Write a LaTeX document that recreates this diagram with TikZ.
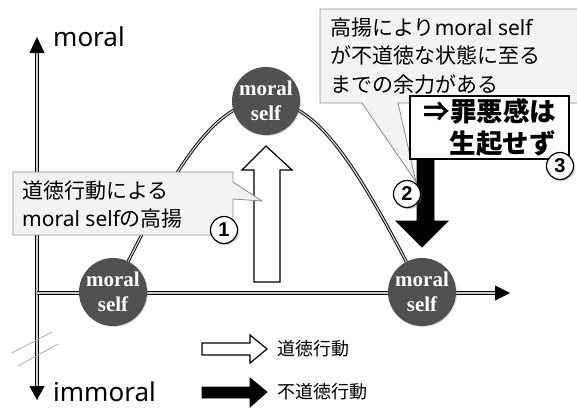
\documentclass[tikz,border=0pt]{standalone}
\usepackage{fontspec}
\setmainfont{Noto Sans CJK JP}
\newfontfamily\serifb{Liberation Serif}
\newfontfamily\lat{Noto Sans}
\newfontfamily\numf{Liberation Sans}
\usetikzlibrary{arrows.meta,shadows}
\definecolor{selffill}{HTML}{505050}
\definecolor{callfill}{HTML}{F2F4F4}
\definecolor{callline}{HTML}{8A8A8A}
\begin{document}
\begin{tikzpicture}[x=1pt,y=-1pt,
  axis/.style={line width=0.9pt, draw=black, double=gray!40, double distance=1.3pt},
  selfnode/.style={circle, fill=selffill, minimum size=68pt, inner sep=0pt, text=white,
    font=\serifb\bfseries\fontsize{21}{24.5}\selectfont, align=center,
    drop shadow={shadow xshift=1pt, shadow yshift=-1pt, opacity=0.3}},
  numnode/.style={circle, draw=black, line width=1.2pt, fill=white, minimum size=27pt, inner sep=0pt,
    font=\numf\bfseries\fontsize{20}{20}\selectfont,
    drop shadow={shadow xshift=1.5pt, shadow yshift=-1.5pt, opacity=0.4}},
  callshape/.style={fill=callfill, draw=callline, line width=0.8pt},
  calltext/.style={align=left, inner sep=0pt, font=\fontsize{21}{28.5}\selectfont},
  whitearrow/.style={fill=white, draw=black, line width=1.2pt, line join=miter},
  blackarrow/.style={fill=black, draw=black, line width=0.8pt, line join=miter},
  axislabel/.style={inner sep=0pt, font=\lat\fontsize{26}{26}\selectfont},
  legendtext/.style={inner sep=0pt, anchor=west, font=\fontsize{18}{18}\selectfont},
  breakmark/.style={draw=gray!70, line width=0.7pt}
]
\useasboundingbox (0,0) rectangle (577,412);

% coordinates
\coordinate (vtop) at (37,37);
\coordinate (vbot) at (37,400);
\coordinate (horg) at (37,293);
\coordinate (hend) at (510,293);
\coordinate (Lc) at (113,292);
\coordinate (Tc) at (266,101);
\coordinate (Rc) at (422,292);

% axes
\draw[axis, {Triangle[length=14pt,width=15pt]}-{Triangle[length=16pt,width=15pt]}] (vbot) -- (vtop);
\draw[axis, -{Triangle[length=15pt,width=15pt]}] (horg) -- (hend);
\draw[breakmark] (12,353) -- (52,332);
\draw[breakmark] (18,366) -- (58,344);

\node[axislabel, anchor=base west] (lmoral) at (53,46) {moral};
\node[axislabel, anchor=base west] (limmoral) at (53,401) {immoral};

% curve
\draw[axis] (Lc) .. controls (175,165) and (215,101) .. (Tc)
                 .. controls (317,101) and (357,165) .. (Rc);

% moral self circles
\node[selfnode] (L) at (Lc) {moral\\self};
\node[selfnode] (T) at (Tc) {moral\\self};
\node[selfnode] (R) at (Rc) {moral\\self};

% big white arrow (moral action)
\draw[whitearrow] (254,282) -- (254,170) -- (242,170) -- (266,146) -- (292,170) -- (280,170) -- (280,282) -- cycle;

% callout 1
\path[callshape] (13,172) -- (233,172) -- (233,182) -- (262,201) -- (233,199) -- (233,235) -- (13,235) -- cycle;
\node[calltext, anchor=west] (c1) at (22,204.5) {道徳行動による\\{\lat moral self}の高揚};
\node[numnode] (n1) at (224,230) {1};

% callout 2
\path[fill=callfill] (577,9) -- (320,9) -- (320,103) -- (362,103) -- (416,182) -- (398,103) -- (577,103) -- cycle;
\draw[draw=callline, line width=0.8pt] (580,9) -- (320,9) -- (320,103) -- (362,103) -- (416,182) -- (398,103) -- (580,103);
\node[calltext, anchor=west] (c2) at (330,56) {高揚により{\lat moral self}\\が不道徳な状態に至る\\までの余力がある};

% black arrow (immoral action)
\draw[blackarrow] (417,150) -- (417,221) -- (396,221) -- (422,247) -- (448,221) -- (434,221) -- (434,150) -- cycle;

% box 3
\node[draw=black, line width=1.3pt, fill=white, minimum width=159pt, minimum height=63pt,
      text width=132pt, inner xsep=13.5pt, inner ysep=0pt, align=right,
      font=\bfseries\fontsize{26.5}{32}\selectfont] (b3) at (489.5,127.5) {⇒罪悪感は\\生起せず};

\node[numnode] (n2) at (407,194) {2};
\node[numnode] (n3) at (560,166) {3};

% legend
\draw[whitearrow] (202,343) -- (250,343) -- (250,335) -- (267,349) -- (250,363) -- (250,355) -- (202,355) -- cycle;
\node[legendtext] (lt1) at (277,349) {道徳行動};
\draw[blackarrow] (202,387) -- (250,387) -- (250,378) -- (267,392) -- (250,407) -- (250,398) -- (202,398) -- cycle;
\node[legendtext] (lt2) at (277,392) {不道徳行動};
\end{tikzpicture}
\end{document}
